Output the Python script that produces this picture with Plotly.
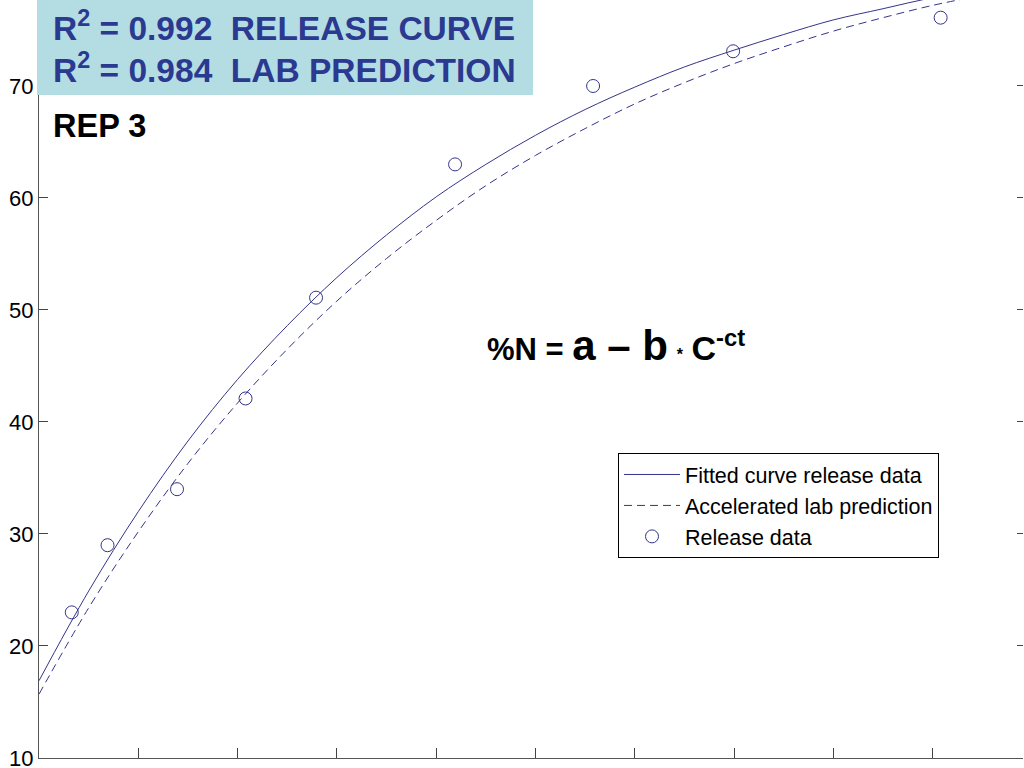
import plotly.graph_objects as go

# ---- data ----
t_release = [0.33, 0.69, 1.39, 2.08, 2.79, 4.19, 5.58, 6.99, 9.08]
n_release = [23.0, 29.0, 34.0, 42.1, 51.1, 63.0, 70.0, 73.1, 76.1]

t_curve = [0, 0.5, 1, 1.5, 2, 2.5, 3, 3.5, 4, 4.5, 5, 5.5, 6, 6.5, 7, 7.5, 8, 8.5, 9, 9.5]
n_fitted = [16.9, 24.9, 32.0, 38.3, 43.8, 48.6, 52.9, 56.7, 60.1, 63.0, 65.6, 67.9,
            69.9, 71.7, 73.2, 74.6, 75.9, 76.9, 77.9, 78.7]
n_lab = [15.7, 23.4, 30.2, 36.3, 41.7, 46.5, 50.8, 54.6, 58.0, 61.1, 63.8, 66.2,
         68.4, 70.3, 72.0, 73.5, 74.9, 76.1, 77.2, 78.1]

y_ticks = [10, 20, 30, 40, 50, 60, 70]
x_ticks = [0, 1, 2, 3, 4, 5, 6, 7, 8, 9]

NAVY = "#34348a"
TXT_BLUE = "#2b3990"
FONT = "Liberation Sans, Arial, sans-serif"

W, H = 1024, 768
ML, MR, MT, MB = 39, 1, 0, 10
PW, PH = W - ML - MR, H - MT - MB
Y0 = 9.999
Y_RANGE = [Y0, Y0 + PH / 11.2]


def px_x(px):
    return (px - ML) / PW


def px_y(py):
    return (H - MB - py) / PH


fig = go.Figure()
fig.add_trace(go.Scatter(x=t_curve, y=n_fitted, mode="lines", name="Fitted curve release data",
                         line=dict(color=NAVY, width=1), line_shape="spline"))
fig.add_trace(go.Scatter(x=t_curve, y=n_lab, mode="lines", name="Accelerated lab prediction",
                         line=dict(color=NAVY, width=1, dash="8px,5px"), line_shape="spline"))
fig.add_trace(go.Scatter(x=t_release, y=n_release, mode="markers", name="Release data",
                         marker=dict(symbol="circle-open", size=13, color=NAVY,
                                     line=dict(width=1, color=NAVY))))
# invisible trace for the right-hand tick marks
fig.add_trace(go.Scatter(x=[0], y=[10], yaxis="y2", mode="markers",
                         marker=dict(opacity=0), showlegend=False, hoverinfo="skip"))

fig.update_layout(
    width=W, height=H,
    margin=dict(l=ML, r=MR, t=MT, b=MB, autoexpand=False),
    paper_bgcolor="white", plot_bgcolor="white",
    font=dict(family=FONT, color="black", size=20),
    showlegend=True,
    legend=dict(x=px_x(618), y=px_y(453), xanchor="left", yanchor="top",
                bordercolor="black", borderwidth=1, bgcolor="white",
                font=dict(family=FONT, size=21.5, color="black"),
                tracegroupgap=0, itemwidth=56),
    xaxis=dict(range=[0, PW / 99.3], tickvals=x_ticks, showticklabels=False,
               ticks="inside", ticklen=10, tickcolor="#444", showline=True,
               linecolor="#555", linewidth=1, showgrid=False, zeroline=False,
               automargin=False),
    yaxis=dict(range=Y_RANGE, tickvals=y_ticks, ticks="inside",
               ticklen=9, tickcolor="#444", showline=True, linecolor="#555",
               linewidth=1, showgrid=False, zeroline=False,
               ticklabeloverflow="allow", automargin=False,
               tickfont=dict(family=FONT, size=22, color="black")),
    yaxis2=dict(range=Y_RANGE, tickvals=y_ticks, overlaying="y",
                side="right", ticks="inside", ticklen=6, tickcolor="#444",
                showline=False, showticklabels=False, showgrid=False, zeroline=False,
                automargin=False),
)

# title box
fig.add_shape(type="rect", xref="paper", yref="paper",
              x0=px_x(37), x1=px_x(533), y0=px_y(95), y1=px_y(-2),
              fillcolor="#b3dde3", line=dict(width=0), layer="above")

fig.add_annotation(xref="paper", yref="paper", x=px_x(51), y=px_y(26),
                   xanchor="left", yanchor="middle", showarrow=False,
                   text="R<sup>2</sup> = 0.992\u00a0\u00a0RELEASE CURVE",
                   font=dict(family=FONT, size=33.5, color=TXT_BLUE, weight="bold"))
fig.add_annotation(xref="paper", yref="paper", x=px_x(51), y=px_y(68),
                   xanchor="left", yanchor="middle", showarrow=False,
                   text="R<sup>2</sup> = 0.984\u00a0\u00a0LAB PREDICTION",
                   font=dict(family=FONT, size=33.5, color=TXT_BLUE, weight="bold"))
fig.add_annotation(xref="paper", yref="paper", x=px_x(51), y=px_y(126),
                   xanchor="left", yanchor="middle", showarrow=False,
                   text="REP 3",
                   font=dict(family=FONT, size=32.5, color="black", weight="bold"))
fig.add_annotation(xref="paper", yref="paper", x=px_x(485), y=px_y(345),
                   xanchor="left", yanchor="middle", showarrow=False,
                   text=("%N = <span style='font-size:42px'>a – b</span>"
                         " <span style='font-size:16px'>*</span> "
                         "<span style='font-size:34px'>C<sup>-ct</sup></span>"),
                   font=dict(family=FONT, size=31, color="black", weight="bold"))

fig.write_html("out.html", config={"displayModeBar": False},
               post_script="document.body.style.margin='0';")
